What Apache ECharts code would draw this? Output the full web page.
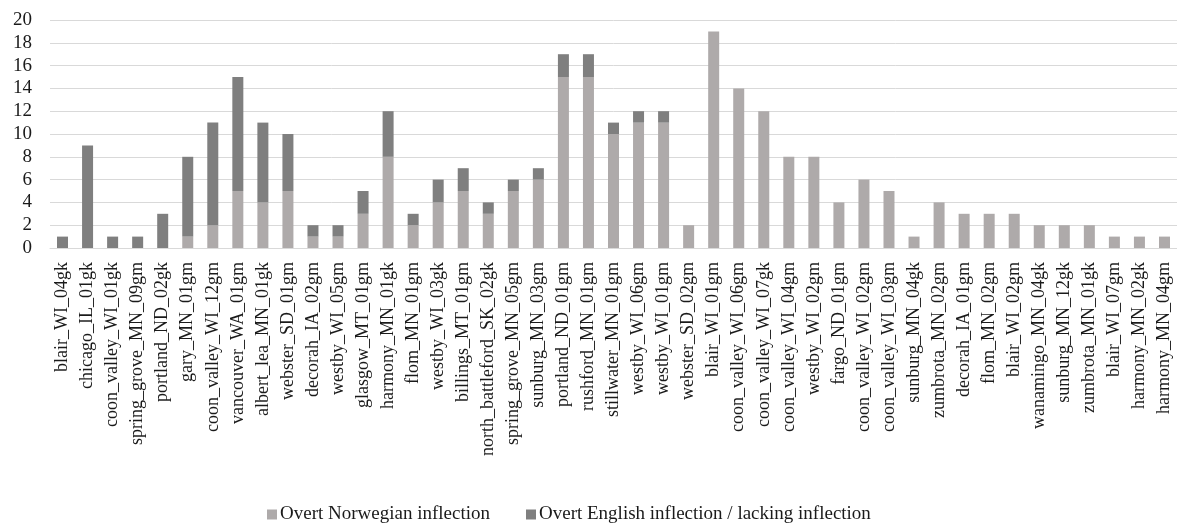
<!DOCTYPE html>
<html>
<head>
<meta charset="utf-8">
<script src="https://cdn.jsdelivr.net/npm/echarts@6/dist/echarts.min.js"></script>
<style>
html,body{margin:0;padding:0;background:#fff;}
#chart{width:1177px;height:526px;}
</style>
</head>
<body>
<div id="chart"></div>
<script>
var categories = [
  "blair_WI_04gk","chicago_IL_01gk","coon_valley_WI_01gk","spring_grove_MN_09gm","portland_ND_02gk",
  "gary_MN_01gm","coon_valley_WI_12gm","vancouver_WA_01gm","albert_lea_MN_01gk","webster_SD_01gm",
  "decorah_IA_02gm","westby_WI_05gm","glasgow_MT_01gm","harmony_MN_01gk","flom_MN_01gm",
  "westby_WI_03gk","billings_MT_01gm","north_battleford_SK_02gk","spring_grove_MN_05gm","sunburg_MN_03gm",
  "portland_ND_01gm","rushford_MN_01gm","stillwater_MN_01gm","westby_WI_06gm","westby_WI_01gm",
  "webster_SD_02gm","blair_WI_01gm","coon_valley_WI_06gm","coon_valley_WI_07gk","coon_valley_WI_04gm",
  "westby_WI_02gm","fargo_ND_01gm","coon_valley_WI_02gm","coon_valley_WI_03gm","sunburg_MN_04gk",
  "zumbrota_MN_02gm","decorah_IA_01gm","flom_MN_02gm","blair_WI_02gm","wanamingo_MN_04gk",
  "sunburg_MN_12gk","zumbrota_MN_01gk","blair_WI_07gm","harmony_MN_02gk","harmony_MN_04gm"
];
var norwegian = [0,0,0,0,0, 1,2,5,4,5, 1,1,3,8,2, 4,5,3,5,6, 15,15,10,11,11, 2,19,14,12,8, 8,4,6,5,1, 4,3,3,3,2, 2,2,1,1,1];
var english   = [1,9,1,1,3, 7,9,10,7,5, 1,1,2,4,1, 2,2,1,1,1, 2,2,1,1,1, 0,0,0,0,0, 0,0,0,0,0, 0,0,0,0,0, 0,0,0,0,0];
var seriesNames = ["Overt Norwegian inflection","Overt English inflection / lacking inflection"];

var font = "'Liberation Serif', 'Times New Roman', serif";
var chart = echarts.init(document.getElementById('chart'), null, {renderer:'canvas'});
chart.setOption({
  animation:false,
  backgroundColor:'#ffffff',
  textStyle:{fontFamily:font},
  grid:{left:50, right:-7, top:20, bottom:278, containLabel:false},
  legend:{
    data:seriesNames,
    left:262, top:500,
    icon:'rect', itemWidth:10, itemHeight:10, itemGap:36,
    textStyle:{fontFamily:font, fontSize:19, color:'#1a1a1a', padding:[0,0,0,-2]}
  },
  xAxis:{
    type:'category', data:categories,
    axisLine:{show:true, lineStyle:{color:'#d9d9d9', width:1}},
    axisTick:{show:false},
    axisLabel:{interval:0, rotate:90, fontFamily:font, fontSize:18, color:'#1a1a1a', margin:14}
  },
  yAxis:{
    type:'value', min:0, max:20, interval:2,
    axisLine:{show:false}, axisTick:{show:false},
    splitLine:{lineStyle:{color:'#d9d9d9', width:1}},
    axisLabel:{fontFamily:font, fontSize:19, color:'#1a1a1a', margin:18}
  },
  series:[
    {name:seriesNames[0], type:'bar', stack:'a', data:norwegian, barWidth:11, itemStyle:{color:'#aeaaaa'}},
    {name:seriesNames[1], type:'bar', stack:'a', data:english, barWidth:11, itemStyle:{color:'#7f7f7f'}}
  ]
});
</script>
</body>
</html>
